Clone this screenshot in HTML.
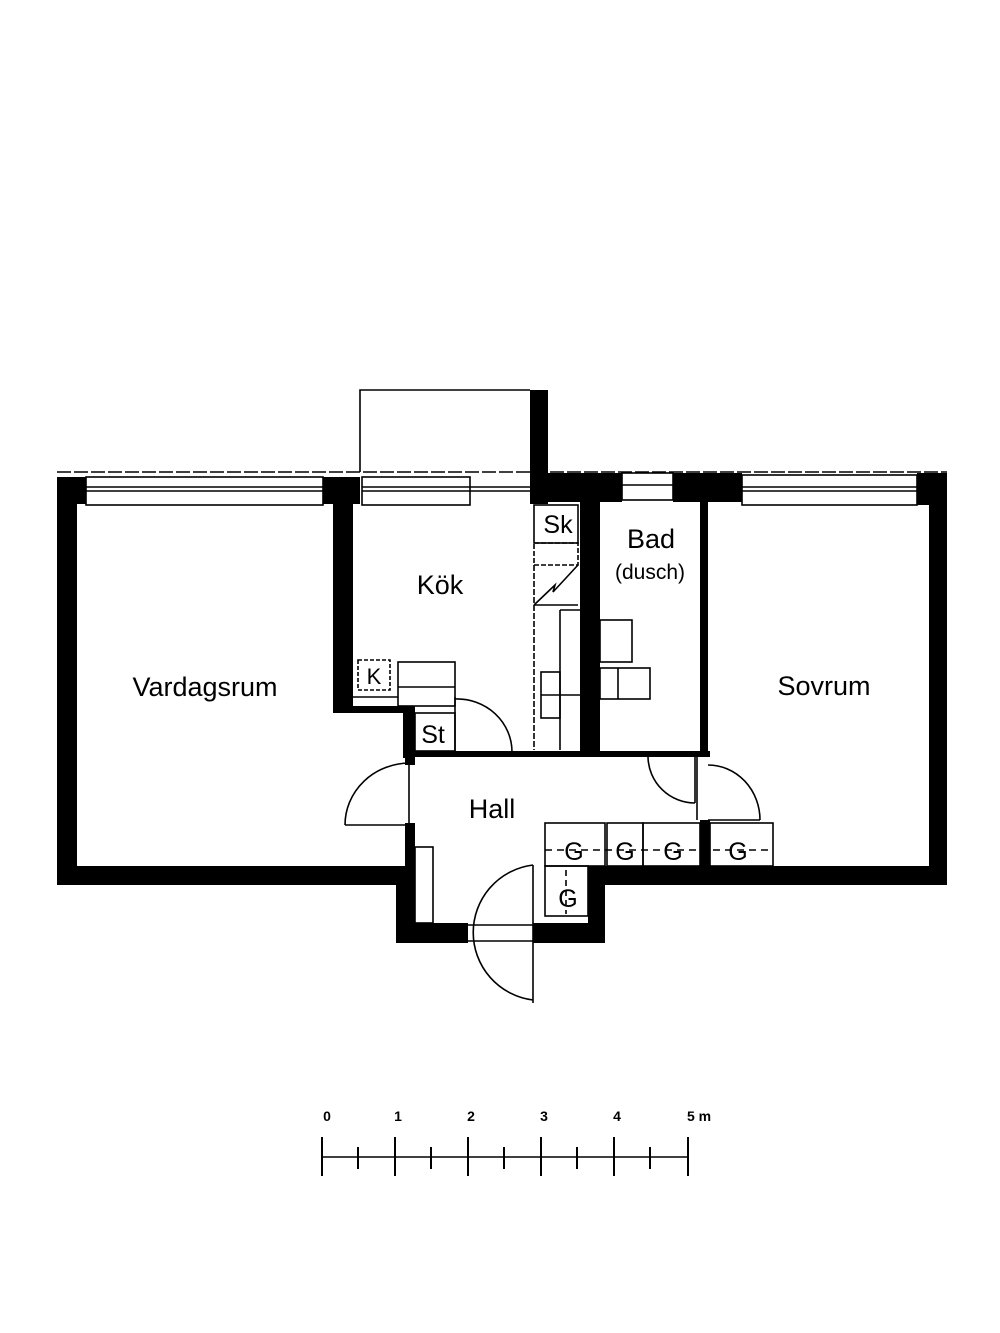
<!DOCTYPE html>
<html><head><style>
html,body{margin:0;padding:0;background:#fff}
svg{display:block}
text{font-family:"Liberation Sans",Arial,sans-serif;fill:#000}
</style></head><body>
<svg width="1000" height="1333" viewBox="0 0 1000 1333">
<g fill="#000">
<!-- outer walls -->
<rect x="57" y="477" width="20" height="408"/>
<rect x="57" y="866" width="358" height="19"/>
<rect x="57" y="477" width="29" height="27"/>
<rect x="323" y="477" width="37" height="27"/>
<rect x="333" y="477" width="20" height="236"/>
<rect x="333" y="706" width="72" height="7"/>
<rect x="403" y="706" width="12" height="52"/>
<rect x="530" y="390" width="18" height="114"/>
<rect x="530" y="473" width="92" height="29"/>
<rect x="673" y="473" width="69" height="29"/>
<rect x="917" y="473" width="30" height="32"/>
<rect x="929" y="473" width="18" height="412"/>
<rect x="588" y="866" width="359" height="19"/>
<rect x="580" y="500" width="20" height="255"/>
<rect x="700" y="500" width="8" height="255"/>
<rect x="700" y="820" width="10" height="47"/>
<rect x="415" y="751" width="295" height="6"/>
<rect x="405" y="751" width="10" height="14"/>
<rect x="405" y="823" width="10" height="110"/>
<rect x="396" y="866" width="19" height="77"/>
<rect x="396" y="923" width="72" height="20"/>
<rect x="533" y="923" width="72" height="20"/>
<rect x="588" y="866" width="17" height="77"/>
</g>
<g fill="none" stroke="#000" stroke-width="1.6">
<!-- balcony -->
<polyline points="360,472 360,390 530,390"/>
<!-- top lines & windows -->
<line x1="57" y1="472" x2="947" y2="472" stroke-dasharray="14 3"/>
<rect x="86" y="477" width="237" height="28"/>
<line x1="86" y1="487" x2="323" y2="487"/><line x1="86" y1="491" x2="323" y2="491"/>
<rect x="362" y="477" width="108" height="28"/>
<line x1="362" y1="487" x2="530" y2="487"/><line x1="362" y1="491" x2="530" y2="491"/>
<rect x="622" y="473" width="51" height="27"/>
<line x1="622" y1="485" x2="673" y2="485"/>
<rect x="742" y="475" width="175" height="30"/>
<line x1="742" y1="487" x2="917" y2="487"/><line x1="742" y1="491" x2="917" y2="491"/>
<!-- kitchen -->
<rect x="358" y="660" width="32" height="30" stroke-dasharray="4 2"/>
<line x1="353" y1="697" x2="398" y2="697"/>
<rect x="398" y="662" width="57" height="44"/>
<line x1="398" y1="687" x2="455" y2="687"/>
<line x1="455" y1="697" x2="455" y2="752"/>
<path d="M455 699 A55 53 0 0 1 512 752"/>
<rect x="415" y="713" width="40" height="38"/>
<!-- right kitchen counter -->
<rect x="534" y="505" width="44" height="38"/>
<rect x="534" y="543" width="44" height="22" stroke-dasharray="5 2"/>
<polyline points="534,605 555,585 553,592 578,565"/>
<line x1="534" y1="565" x2="534" y2="750" stroke-dasharray="6 2"/>
<line x1="534" y1="605" x2="578" y2="605"/>
<line x1="560" y1="610" x2="560" y2="750"/>
<line x1="560" y1="610" x2="580" y2="610"/>
<rect x="541" y="672" width="19" height="46"/>
<line x1="541" y1="695" x2="580" y2="695"/>
<!-- bad -->
<rect x="600" y="620" width="32" height="42"/>
<rect x="600" y="668" width="50" height="31"/>
<line x1="618" y1="668" x2="618" y2="699"/>
<!-- doors -->
<path d="M648 757 A47 47 0 0 0 695 803"/>
<line x1="695" y1="757" x2="695" y2="803"/>
<line x1="697" y1="757" x2="697" y2="820"/>
<path d="M708 765 A52 55 0 0 1 760 820"/>
<line x1="708" y1="820" x2="760" y2="820"/>
<path d="M345 825 A65 62 0 0 1 410 763"/>
<line x1="345" y1="825" x2="410" y2="825"/>
<line x1="409" y1="765" x2="409" y2="823"/>
<path d="M533 865 A68 68 0 0 0 533 1000"/>
<line x1="533" y1="865" x2="533" y2="1003"/>
<line x1="468" y1="925" x2="533" y2="925"/><line x1="468" y1="941" x2="533" y2="941"/>
<!-- hall closet -->
<rect x="415" y="847" width="18" height="76"/>
<!-- G cabinets -->
<rect x="545" y="823" width="60" height="43"/>
<rect x="607" y="823" width="36" height="43"/>
<rect x="643" y="823" width="57" height="43"/>
<rect x="710" y="823" width="63" height="43"/>
<line x1="545" y1="850" x2="773" y2="850" stroke-dasharray="7 5"/>
<rect x="545" y="866" width="43" height="50"/>
<line x1="566" y1="870" x2="566" y2="914" stroke-dasharray="6 4"/>
<!-- scale -->
<line x1="322" y1="1157" x2="688" y2="1157"/>
</g>
<g stroke="#000" stroke-width="2">
<line x1="322" y1="1137" x2="322" y2="1176"/><line x1="395" y1="1137" x2="395" y2="1176"/>
<line x1="468" y1="1137" x2="468" y2="1176"/><line x1="541" y1="1137" x2="541" y2="1176"/>
<line x1="614" y1="1137" x2="614" y2="1176"/><line x1="688" y1="1137" x2="688" y2="1176"/>
<line x1="358" y1="1147" x2="358" y2="1169"/><line x1="431" y1="1147" x2="431" y2="1169"/>
<line x1="504" y1="1147" x2="504" y2="1169"/><line x1="577" y1="1147" x2="577" y2="1169"/>
<line x1="650" y1="1147" x2="650" y2="1169"/>
</g>
<g font-size="14" font-weight="bold" text-anchor="middle">
<text x="327" y="1121">0</text><text x="398" y="1121">1</text><text x="471" y="1121">2</text>
<text x="544" y="1121">3</text><text x="617" y="1121">4</text><text x="699" y="1121">5 m</text>
</g>
<g font-size="27" text-anchor="middle">
<text x="205" y="696">Vardagsrum</text>
<text x="440" y="594">Kök</text>
<text x="824" y="695">Sovrum</text>
<text x="492" y="818">Hall</text>
<text x="651" y="548">Bad</text>
<text x="558" y="533" font-size="25">Sk</text>
<text x="433" y="743" font-size="25">St</text>
<text x="374" y="684" font-size="22">K</text>
</g>
<g font-size="21" text-anchor="middle">
<text x="650" y="579">(dusch)</text>
</g>
<g font-size="25" text-anchor="middle">
<text x="574" y="860">G</text><text x="625" y="860">G</text><text x="673" y="860">G</text>
<text x="738" y="860">G</text><text x="568" y="907">G</text>
</g>
</svg>
</body></html>
